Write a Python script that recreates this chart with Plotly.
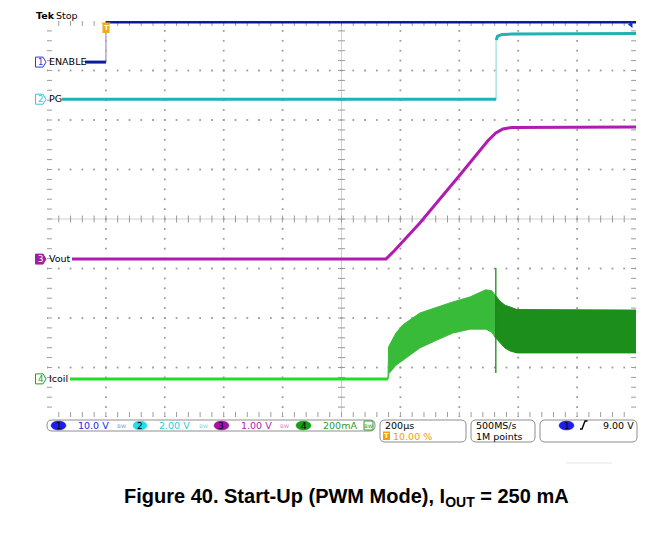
import plotly.graph_objects as go

# ---------------- data (physical units, time in µs, trigger at 0) ----------------
t_enable = [-71, 0, 0, 1800]
v_enable = [0, 0, 8.1, 8.1]                      # V  (ch1, 10 V/div)

t_pg = [-149, 1325, 1325, 1330, 1345, 1380, 1800]
v_pg = [0, 0, 2.39, 2.55, 2.61, 2.63, 2.65]       # V  (ch2, 2 V/div)

t_vout = [-115, 951, 981, 1066, 1202, 1297, 1324, 1348, 1379, 1800]
v_vout = [0, 0, 0.18, 0.73, 1.70, 2.39, 2.55, 2.63, 2.66, 2.67]   # V (ch3, 1 V/div)

t_icoil_base = [-122, 958]
i_icoil_base = [0, 0]                             # mA (ch4, 200 mA/div)

t_icoil = [958, 960, 985, 1008, 1066, 1124, 1178, 1236, 1290, 1310, 1321, 1338, 1355, 1372, 1396, 1800]
i_icoil_hi = [0, 130, 185, 218, 266, 290, 311, 331, 360, 356, 340, 314, 298, 290, 280, 278]
i_icoil_lo = [0, 20, 55, 76, 125, 157, 185, 201, 201, 189, 169, 145, 125, 113, 105, 105]
t_icoil_spike = [1324, 1324]
i_icoil_spike = [448, 24]

# ---------------- channel display settings ----------------
OFF_ENABLE, SC_ENABLE = 7.17, 10.0
OFF_PG, SC_PG = 6.42, 2.0
OFF_VOUT, SC_VOUT = 3.19, 1.0
OFF_IL, SC_IL = 0.77, 200.0

C_EN = "#0b1b9e"
C_EN_EDGE = "#a9a9d8"
C_PG = "#22b2b0"
C_PG_EDGE = "#a8e4e2"
C_VO = "#b01cb0"
C_IL = "#22dd22"
C_IL_RAMP = "#38bb38"
C_IL_STEADY = "#1b8e1b"

XMIN, XMAX = -200, 1800
L, R, T, B = 47, 636, 21, 417      # graticule box, page pixels
W, H = 669, 544


def to_div(vals, off, sc):
    return [off + v / sc for v in vals]


def gap_edges(t, v):
    xs, ys = [], []
    for i in range(len(t)):
        if i > 0 and t[i] == t[i - 1]:
            xs.append(None)
            ys.append(None)
        xs.append(t[i])
        ys.append(v[i])
    return xs, ys


def PX(px):
    return px / W


def PY(py):
    return 1 - py / H


fig = go.Figure()

# ---------------- graticule ----------------
step_x = (XMAX - XMIN) / 10
gx, gy = [], []
for i in range(1, 10):
    if i == 5:
        continue
    x = XMIN + i * step_x
    for j in range(0, 41):
        gx.append(x)
        gy.append(j * 0.2)
for j in range(1, 8):
    if j == 4:
        continue
    for i in range(0, 51):
        gx.append(XMIN + i * step_x / 5)
        gy.append(j)
fig.add_trace(go.Scatter(x=gx, y=gy, mode="markers", hoverinfo="skip",
                         marker=dict(symbol="square", size=1.8, color="#9c9c9c", line=dict(width=0))))

fig.add_shape(type="line", xref="x", yref="y", x0=XMIN, x1=XMAX, y0=4, y1=4,
              line=dict(color="#d0d0d0", width=1), layer="below")
fig.add_shape(type="line", xref="x", yref="y", x0=800, x1=800, y0=0, y1=8,
              line=dict(color="#d0d0d0", width=1), layer="below")
tx = [XMIN + i * step_x / 5 for i in range(1, 50)]
fig.add_trace(go.Scatter(x=tx, y=[4] * len(tx), mode="markers", hoverinfo="skip",
                         marker=dict(symbol="line-ns", size=5, line=dict(width=1, color="#9a9a9a"))))
ty = [j * 0.2 for j in range(1, 40)]
fig.add_trace(go.Scatter(x=[800] * len(ty), y=ty, mode="markers", hoverinfo="skip",
                         marker=dict(symbol="line-ew", size=5, line=dict(width=1, color="#9a9a9a"))))
fig.add_trace(go.Scatter(x=tx + tx, y=[0] * len(tx) + [8] * len(tx), mode="markers", hoverinfo="skip",
                         marker=dict(symbol="line-ns", size=7, line=dict(width=1, color="#9a9a9a"))))
fig.add_trace(go.Scatter(x=[XMIN] * len(ty) + [XMAX] * len(ty), y=ty + ty, mode="markers", hoverinfo="skip",
                         marker=dict(symbol="line-ew", size=7, line=dict(width=1, color="#9a9a9a"))))

# ---------------- waveforms ----------------
k = t_icoil.index(1321)
for a, b_, col in [(0, k + 1, C_IL_RAMP), (k, len(t_icoil), C_IL_STEADY)]:
    tt = t_icoil[a:b_]
    fig.add_trace(go.Scatter(x=tt, y=to_div(i_icoil_lo[a:b_], OFF_IL, SC_IL), mode="lines",
                             line=dict(color=col, width=1), hoverinfo="skip"))
    fig.add_trace(go.Scatter(x=tt, y=to_div(i_icoil_hi[a:b_], OFF_IL, SC_IL), mode="lines",
                             line=dict(color=col, width=1), fill="tonexty", fillcolor=col, hoverinfo="skip"))
fig.add_trace(go.Scatter(x=t_icoil_spike, y=to_div(i_icoil_spike, OFF_IL, SC_IL), mode="lines",
                         line=dict(color="#1a8a1a", width=1.3), hoverinfo="skip"))
fig.add_trace(go.Scatter(x=t_icoil_base, y=to_div(i_icoil_base, OFF_IL, SC_IL), mode="lines",
                         line=dict(color=C_IL, width=3), hoverinfo="skip"))

fig.add_trace(go.Scatter(x=t_vout, y=to_div(v_vout, OFF_VOUT, SC_VOUT), mode="lines",
                         line=dict(color=C_VO, width=3), hoverinfo="skip"))

fig.add_trace(go.Scatter(x=t_pg, y=to_div(v_pg, OFF_PG, SC_PG), mode="lines",
                         line=dict(color=C_PG_EDGE, width=1.5), hoverinfo="skip"))
xs, ys = gap_edges(t_pg, to_div(v_pg, OFF_PG, SC_PG))
fig.add_trace(go.Scatter(x=xs, y=ys, mode="lines", connectgaps=False,
                         line=dict(color=C_PG, width=3), hoverinfo="skip"))

fig.add_trace(go.Scatter(x=t_enable, y=to_div(v_enable, OFF_ENABLE, SC_ENABLE), mode="lines",
                         line=dict(color=C_EN_EDGE, width=1.5), hoverinfo="skip"))
xs, ys = gap_edges(t_enable, to_div(v_enable, OFF_ENABLE, SC_ENABLE))
fig.add_trace(go.Scatter(x=xs, y=ys, mode="lines", connectgaps=False,
                         line=dict(color=C_EN, width=3), hoverinfo="skip"))

fig.add_trace(go.Scatter(x=[0], y=[7.93], mode="markers", cliponaxis=False, hoverinfo="skip",
                         marker=dict(symbol="triangle-down", size=8, color="#f5a623")))
fig.add_trace(go.Scatter(x=[1783], y=[7.93], mode="markers", cliponaxis=False, hoverinfo="skip",
                         marker=dict(symbol="triangle-left", size=6, color="#1a2ad8")))

# ---------------- shapes ----------------
shapes = []
shapes.append(dict(type="rect", xref="paper", yref="paper", x0=PX(L), x1=PX(R), y0=PY(B), y1=PY(T),
                   line=dict(color="#8c8c8c", width=1.5)))
# page rule at top of the page
shapes.append(dict(type="rect", xref="paper", yref="paper", layer="above",
                   x0=PX(0), x1=PX(665), y0=PY(5), y1=PY(3),
                   fillcolor="#000000", line=dict(color="#000000", width=0.5)))
shapes.append(dict(type="line", xref="paper", yref="paper", x0=PX(566), x1=PX(612), y0=PY(463), y1=PY(463),
                   line=dict(color="#e6e6e6", width=1)))


def rrect(x0, y0, x1, y1, r):
    p = (f"M {PX(x0 + r)},{PY(y0)} L {PX(x1 - r)},{PY(y0)} Q {PX(x1)},{PY(y0)} {PX(x1)},{PY(y0 + r)} "
         f"L {PX(x1)},{PY(y1 - r)} Q {PX(x1)},{PY(y1)} {PX(x1 - r)},{PY(y1)} "
         f"L {PX(x0 + r)},{PY(y1)} Q {PX(x0)},{PY(y1)} {PX(x0)},{PY(y1 - r)} "
         f"L {PX(x0)},{PY(y0 + r)} Q {PX(x0)},{PY(y0)} {PX(x0 + r)},{PY(y0)} Z")
    return dict(type="path", xref="paper", yref="paper", path=p, line=dict(color="#8e8e8e", width=1))


shapes.append(rrect(47, 420, 375, 431, 5))
shapes.append(rrect(380, 420, 466, 442, 5))
shapes.append(rrect(471, 420, 535, 442, 5))
shapes.append(rrect(540, 420, 637, 442, 5))


def oval(x0, x1, y0, y1, col):
    return dict(type="circle", xref="paper", yref="paper", x0=PX(x0), x1=PX(x1), y0=PY(y1), y1=PY(y0),
                fillcolor=col, line=dict(color=col, width=0.5))


shapes.append(oval(51, 66, 421, 430, "#1d1df0"))
shapes.append(oval(133, 147, 421, 430, "#25dde6"))
shapes.append(oval(214, 229, 421, 430, "#a014a0"))
shapes.append(oval(296, 311, 421, 430, "#14a014"))
shapes.append(oval(559, 574, 421, 430, "#1d1df0"))
shapes.append(dict(type="path", xref="paper", yref="paper",
                   path=f"M {PX(580)},{PY(429)} L {PX(582)},{PY(429)} L {PX(585)},{PY(421)} L {PX(587.5)},{PY(421)}",
                   line=dict(color="black", width=1.4)))
box_cols = [(OFF_ENABLE, "#2a3ad8", "white"), (OFF_PG, "#35c8d8", "white"),
            (OFF_VOUT, "#a020a0", "#a020a0"), (OFF_IL, "#20a020", "white")]
for off, bc, bg in box_cols:
    yc = B - off * (B - T) / 8
    shapes.append(dict(type="path", xref="paper", yref="paper",
                       path=(f"M {PX(35.5)},{PY(yc - 5)} L {PX(43)},{PY(yc - 5)} L {PX(46)},{PY(yc)} "
                             f"L {PX(43)},{PY(yc + 5)} L {PX(35.5)},{PY(yc + 5)} Z"),
                       fillcolor=bg, line=dict(color=bc, width=1)))
shapes.append(dict(type="rect", xref="paper", yref="paper", x0=PX(102.5), x1=PX(109.5), y0=PY(33), y1=PY(24),
                   fillcolor="#f5a623", line=dict(width=0)))
shapes.append(dict(type="rect", xref="paper", yref="paper", x0=PX(383), x1=PX(390), y0=PY(440), y1=PY(431.5),
                   fillcolor="#f5a000", line=dict(width=0)))
shapes.append(dict(type="rect", xref="paper", yref="paper", x0=PX(364), x1=PX(373), y0=PY(430), y1=PY(421),
                   line=dict(color="#30a030", width=1)))

# ---------------- annotations ----------------
ann = []
FONT = "DejaVu Sans"


def txt(x, y, s, size=9.5, color="black", xanchor="left"):
    return dict(xref="paper", yref="paper", x=PX(x), y=PY(y), text=s, showarrow=False,
                xanchor=xanchor, yanchor="middle", font=dict(family=FONT, size=size, color=color))


ann.append(txt(34, 15.5, "<b>Tek</b>", size=9.5))
ann.append(txt(54, 15.5, "Stop", size=9.5))

labels = [("1", "ENABLE", OFF_ENABLE, "#2a3ad8"), ("2", "PG", OFF_PG, "#35c8d8"),
          ("3", "Vout", OFF_VOUT, "white"), ("4", "Icoil", OFF_IL, "#20a020")]
for num, name, off, fc in labels:
    yc = B - off * (B - T) / 8
    ann.append(txt(40, yc, num, size=8.5, color=fc, xanchor="center"))
    ann.append(txt(46.5, yc - 0.5, name, size=9.5))

ann.append(txt(106, 28.5, "<b>T</b>", size=7, color="white", xanchor="center"))

ann.append(txt(58.5, 425.5, "1", size=9, xanchor="center"))
ann.append(txt(76, 425.5, "10.0 V", color="#2323f0"))
ann.append(txt(122, 425.5, "ʙw", size=6.5, color="#8a9ae0", xanchor="center"))
ann.append(txt(140, 425.5, "2", size=9, xanchor="center"))
ann.append(txt(157, 425.5, "2.00 V", color="#25d0e0"))
ann.append(txt(204, 425.5, "ʙw", size=6.5, color="#80d8e0", xanchor="center"))
ann.append(txt(221.5, 425.5, "3", size=9, xanchor="center"))
ann.append(txt(239, 425.5, "1.00 V", color="#b020b0"))
ann.append(txt(285, 425.5, "ʙw", size=6.5, color="#c890c8", xanchor="center"))
ann.append(txt(303.5, 425.5, "4", size=9, xanchor="center"))
ann.append(txt(321, 425.5, "200mA", color="#1fa01f"))
ann.append(txt(368.5, 425.5, "ʙw", size=6.5, color="#30a030", xanchor="center"))

ann.append(txt(383, 425, "200µs"))
ann.append(txt(386.5, 436, "<b>T</b>", size=7, color="white", xanchor="center"))
ann.append(txt(391, 436, "10.00 %", color="#f5a000"))
ann.append(txt(474, 425, "500MS/s"))
ann.append(txt(474, 436, "1M points"))
ann.append(txt(566.5, 425.5, "1", size=9, xanchor="center"))
ann.append(txt(635.5, 425, "9.00 V", xanchor="right"))

ann.append(dict(xref="paper", yref="paper", x=PX(346), y=PY(497), showarrow=False,
                text="<b>Figure 40. Start-Up (PWM Mode), I<sub>OUT</sub> = 250 mA</b>",
                xanchor="center", yanchor="middle",
                font=dict(family="Liberation Sans, Arial", size=20, color="black")))

fig.update_layout(
    width=W, height=H, autosize=False,
    margin=dict(l=0, r=0, t=0, b=0, pad=0),
    paper_bgcolor="white", plot_bgcolor="white",
    showlegend=False,
    xaxis=dict(range=[XMIN, XMAX], domain=[PX(L), PX(R)], visible=False, fixedrange=True),
    yaxis=dict(range=[0, 8], domain=[PY(B), PY(T)], visible=False, fixedrange=True),
    shapes=shapes, annotations=ann,
)

fig.write_html("out.html", config={"displayModeBar": False},
               post_script="document.body.style.margin='0px';")
